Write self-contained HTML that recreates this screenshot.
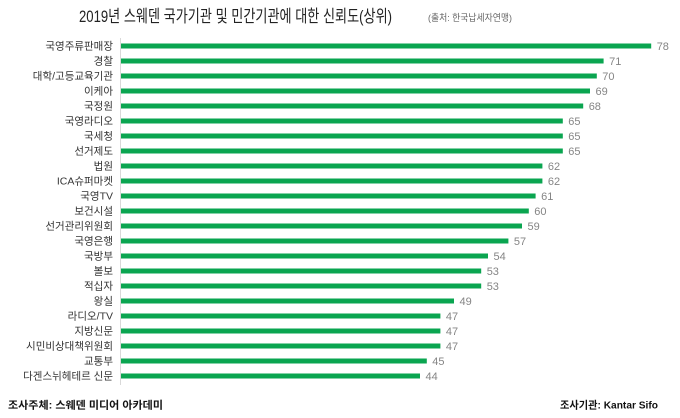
<!DOCTYPE html>
<html><head><meta charset="utf-8"><style>
html,body{margin:0;padding:0;background:#fff;}
svg{display:block;}
.lb{font-family:"Liberation Sans","Noto Sans CJK KR",sans-serif;font-size:10.5px;fill:#333;text-anchor:end;}
.v{font-family:"Liberation Sans",sans-serif;font-size:11px;fill:#858585;}
.b{fill:#0aa550;}
</style></head><body>
<svg width="680" height="418" viewBox="0 0 680 418" xmlns="http://www.w3.org/2000/svg">
<rect width="680" height="418" fill="#fff"/>
<text x="79" y="22" font-family="Liberation Sans,'Noto Sans CJK KR',sans-serif" font-size="17" fill="#222" textLength="313" lengthAdjust="spacingAndGlyphs">2019년 스웨덴 국가기관 및 민간기관에 대한 신뢰도(상위)</text>
<text x="428" y="21" font-family="Liberation Sans,'Noto Sans CJK KR',sans-serif" font-size="9.5" fill="#666" textLength="84" lengthAdjust="spacingAndGlyphs">(출처: 한국납세자연맹)</text>
<line x1="120.5" y1="38" x2="120.5" y2="385" stroke="#d9d9d9" stroke-width="1"/>
<g>
<rect class="b" x="121" y="43.5" width="530.2" height="5"/><text class="lb" x="113" y="49.5">국영주류판매장</text><text class="v" x="656.7" y="50">78</text>
<rect class="b" x="121" y="58.5" width="482.6" height="5"/><text class="lb" x="113" y="64.5">경찰</text><text class="v" x="609.1" y="65">71</text>
<rect class="b" x="121" y="73.5" width="475.8" height="5"/><text class="lb" x="113" y="79.5">대학/고등교육기관</text><text class="v" x="602.3" y="80">70</text>
<rect class="b" x="121" y="88.5" width="469" height="5"/><text class="lb" x="113" y="94.5">이케아</text><text class="v" x="595.5" y="95">69</text>
<rect class="b" x="121" y="103.5" width="462.2" height="5"/><text class="lb" x="113" y="109.5">국정원</text><text class="v" x="588.7" y="110">68</text>
<rect class="b" x="121" y="118.5" width="441.8" height="5"/><text class="lb" x="113" y="124.5">국영라디오</text><text class="v" x="568.3" y="125">65</text>
<rect class="b" x="121" y="133.5" width="441.8" height="5"/><text class="lb" x="113" y="139.5">국세청</text><text class="v" x="568.3" y="140">65</text>
<rect class="b" x="121" y="148.5" width="441.8" height="5"/><text class="lb" x="113" y="154.5">선거제도</text><text class="v" x="568.3" y="155">65</text>
<rect class="b" x="121" y="163.5" width="421.4" height="5"/><text class="lb" x="113" y="169.5">법원</text><text class="v" x="547.9" y="170">62</text>
<rect class="b" x="121" y="178.5" width="421.4" height="5"/><text class="lb" x="113" y="184.5">ICA슈퍼마켓</text><text class="v" x="547.9" y="185">62</text>
<rect class="b" x="121" y="193.5" width="414.6" height="5"/><text class="lb" x="113" y="199.5">국영TV</text><text class="v" x="541.1" y="200">61</text>
<rect class="b" x="121" y="208.5" width="407.8" height="5"/><text class="lb" x="113" y="214.5">보건시설</text><text class="v" x="534.3" y="215">60</text>
<rect class="b" x="121" y="223.5" width="401" height="5"/><text class="lb" x="113" y="229.5">선거관리위원회</text><text class="v" x="527.5" y="230">59</text>
<rect class="b" x="121" y="238.5" width="387.4" height="5"/><text class="lb" x="113" y="244.5">국영은행</text><text class="v" x="513.9" y="245">57</text>
<rect class="b" x="121" y="253.5" width="367" height="5"/><text class="lb" x="113" y="259.5">국방부</text><text class="v" x="493.5" y="260">54</text>
<rect class="b" x="121" y="268.5" width="360.2" height="5"/><text class="lb" x="113" y="274.5">볼보</text><text class="v" x="486.7" y="275">53</text>
<rect class="b" x="121" y="283.5" width="360.2" height="5"/><text class="lb" x="113" y="289.5">적십자</text><text class="v" x="486.7" y="290">53</text>
<rect class="b" x="121" y="298.5" width="333" height="5"/><text class="lb" x="113" y="304.5">왕실</text><text class="v" x="459.5" y="305">49</text>
<rect class="b" x="121" y="313.5" width="319.4" height="5"/><text class="lb" x="113" y="319.5">라디오/TV</text><text class="v" x="445.9" y="320">47</text>
<rect class="b" x="121" y="328.5" width="319.4" height="5"/><text class="lb" x="113" y="334.5">지방신문</text><text class="v" x="445.9" y="335">47</text>
<rect class="b" x="121" y="343.5" width="319.4" height="5"/><text class="lb" x="113" y="349.5">시민비상대책위원회</text><text class="v" x="445.9" y="350">47</text>
<rect class="b" x="121" y="358.5" width="305.8" height="5"/><text class="lb" x="113" y="364.5">교통부</text><text class="v" x="432.3" y="365">45</text>
<rect class="b" x="121" y="373.5" width="299" height="5"/><text class="lb" x="113" y="379.5">다겐스뉘헤테르 신문</text><text class="v" x="425.5" y="380">44</text>
</g>
<text x="8" y="408.5" font-family="Liberation Sans,'Noto Sans CJK KR',sans-serif" font-size="10.5" font-weight="bold" fill="#111" textLength="155" lengthAdjust="spacingAndGlyphs">조사주체: 스웨덴 미디어 아카데미</text>
<text x="560" y="408.5" font-family="Liberation Sans,'Noto Sans CJK KR',sans-serif" font-size="10.5" font-weight="bold" fill="#111" textLength="98" lengthAdjust="spacingAndGlyphs">조사기관: Kantar Sifo</text>
</svg>
</body></html>
